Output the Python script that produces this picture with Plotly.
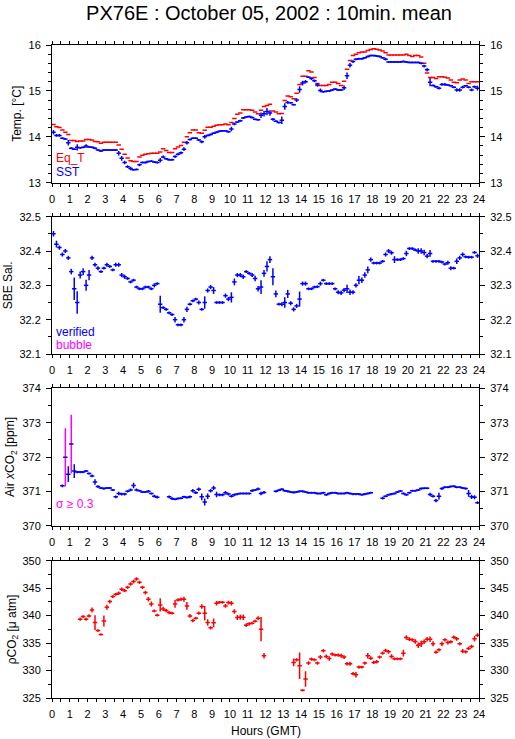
import plotly.graph_objects as go

# ---------------- data (10-minute means, 144 bins per day) ----------------
hours_ticks = list(range(0, 25))
tick_labels = [str(h) for h in hours_ticks]

eq_t = [
    14.27, 14.22, 14.20, 14.15, 14.10, 14.05,
    13.92, 13.92, 13.90, 13.91, 13.91, 13.94,
    13.94, 13.93, 13.90, 13.89, 13.86, 13.88,
    13.88, 13.88, 13.88, 13.88, 13.82, 13.73,
    13.62, 13.54, 13.48, 13.46, 13.46, 13.56,
    13.60, 13.62, 13.63, 13.64, 13.64, 13.64,
    13.67, 13.74, 13.70, 13.66, 13.66, 13.74,
    13.78, 13.81, 13.88, 14.00, 14.09, 14.15,
    14.15, 14.09, 14.08, 14.14, 14.21, 14.21,
    14.23, 14.25, 14.26, 14.26, 14.28, 14.26,
    14.31, 14.40, 14.49, 14.52, 14.59, 14.59,
    14.59, 14.58, 14.54, 14.50, 14.58, 14.66,
    14.68, 14.71, 14.56, 14.54, 14.50, 14.51,
    14.79, 14.89, 14.87, 14.83, 14.95, 15.14,
    15.32, 15.32, 15.44, 15.41, 15.29, 15.16,
    15.12, 15.12, 15.12, 15.14, 15.19, 15.19,
    15.16, 15.12, 15.21, 15.47, 15.66, 15.77,
    15.80, 15.83, 15.85, 15.85, 15.88, 15.90,
    15.92, 15.91, 15.89, 15.87, 15.83, 15.78,
    15.78, 15.78, 15.78, 15.78, 15.78, 15.80,
    15.77, 15.75, 15.77, 15.77, 15.74, 15.60,
    15.39, 15.29, 15.29, 15.27, 15.31, 15.31,
    15.30, 15.28, 15.24, 15.19, 15.18, 15.24,
    15.26, 15.24, 15.16, 15.20, 15.20, 15.20,
]

sst = [
    14.10, 14.03, 14.03, 13.97, 13.95, 13.87,
    13.75, 13.73, 13.77, 13.76, 13.77, 13.80,
    13.78, 13.77, 13.75, 13.71, 13.69, 13.71,
    13.71, 13.71, 13.71, 13.71, 13.64, 13.53,
    13.44, 13.35, 13.31, 13.28, 13.29, 13.39,
    13.44, 13.44, 13.46, 13.47, 13.45, 13.44,
    13.49, 13.56, 13.52, 13.50, 13.50, 13.57,
    13.62, 13.65, 13.73, 13.87, 13.94, 13.97,
    13.97, 13.93, 13.89, 14.00, 14.03, 14.05,
    14.08, 14.10, 14.12, 14.13, 14.13, 14.11,
    14.17, 14.28, 14.32, 14.35, 14.41, 14.43,
    14.44, 14.42, 14.38, 14.37, 14.47, 14.50,
    14.55, 14.52, 14.38, 14.34, 14.31, 14.36,
    14.66, 14.75, 14.74, 14.70, 14.80, 15.03,
    15.17, 15.20, 15.30, 15.27, 15.22, 15.13,
    15.01, 14.98, 14.99, 15.00, 15.02, 15.04,
    15.02, 15.02, 15.07, 15.33, 15.56, 15.64,
    15.69, 15.70, 15.70, 15.72, 15.75, 15.77,
    15.77, 15.76, 15.75, 15.72, 15.69, 15.63,
    15.63, 15.63, 15.63, 15.63, 15.64, 15.63,
    15.62, 15.62, 15.62, 15.62, 15.60, 15.54,
    15.46, 15.19, 15.12, 15.09, 15.06, 15.14,
    15.14, 15.13, 15.11, 15.08, 15.02, 15.02,
    15.08, 15.11, 15.08, 15.02, 15.09, 15.06,
]

sst_std = [
    0.05, 0.03, 0.03, 0.02, 0.02, 0.06,
    0.02, 0.02, 0.07, 0.02, 0.02, 0.04,
    0.02, 0.02, 0.02, 0.02, 0.02, 0.02,
    0.02, 0.02, 0.02, 0.02, 0.05, 0.05,
    0.04, 0.03, 0.04, 0.02, 0.02, 0.03,
    0.02, 0.02, 0.02, 0.02, 0.02, 0.02,
    0.05, 0.03, 0.02, 0.02, 0.02, 0.03,
    0.03, 0.03, 0.04, 0.04, 0.02, 0.02,
    0.02, 0.02, 0.03, 0.04, 0.02, 0.02,
    0.02, 0.02, 0.02, 0.02, 0.02, 0.02,
    0.05, 0.03, 0.02, 0.02, 0.02, 0.02,
    0.02, 0.02, 0.02, 0.02, 0.06, 0.06,
    0.08, 0.06, 0.03, 0.02, 0.02, 0.08,
    0.07, 0.03, 0.02, 0.02, 0.04, 0.07,
    0.05, 0.04, 0.02, 0.03, 0.03, 0.04,
    0.04, 0.02, 0.02, 0.02, 0.02, 0.02,
    0.02, 0.02, 0.05, 0.07, 0.05, 0.03,
    0.02, 0.02, 0.02, 0.02, 0.02, 0.02,
    0.02, 0.02, 0.02, 0.02, 0.03, 0.02,
    0.02, 0.02, 0.02, 0.02, 0.02, 0.02,
    0.02, 0.02, 0.02, 0.02, 0.02, 0.03,
    0.04, 0.09, 0.02, 0.02, 0.03, 0.03,
    0.03, 0.02, 0.02, 0.02, 0.04, 0.04,
    0.03, 0.02, 0.02, 0.03, 0.03, 0.05,
]

salinity = [
    32.45, 32.42, 32.41, 32.39, 32.40, 32.38,
    32.34, 32.29, 32.25, 32.33, 32.34, 32.30,
    32.33, 32.38, 32.36, 32.35, 32.34, 32.35,
    32.36, 32.355, 32.345, 32.36, 32.36, 32.33,
    32.325, 32.32, 32.31, 32.315, 32.295, 32.29,
    32.29, 32.295, 32.295, 32.29, 32.30, 32.305,
    32.245, 32.235, 32.23, 32.22, 32.215, 32.20,
    32.185, 32.185, 32.20, 32.23, 32.245, 32.255,
    32.26, 32.25, 32.23, 32.25, 32.285, 32.295,
    32.285, 32.25, 32.25, 32.25, 32.27, 32.26,
    32.265, 32.31, 32.33, 32.33, 32.325, 32.34,
    32.335, 32.33, 32.32, 32.29, 32.295, 32.335,
    32.355, 32.375, 32.325, 32.275, 32.245, 32.245,
    32.25, 32.275, 32.248, 32.23, 32.24, 32.26,
    32.305, 32.305, 32.29, 32.29, 32.295, 32.296,
    32.305, 32.315, 32.305, 32.305, 32.305, 32.29,
    32.28, 32.278, 32.286, 32.29, 32.28, 32.28,
    32.30, 32.315, 32.315, 32.33, 32.345, 32.375,
    32.365, 32.365, 32.365, 32.37, 32.39, 32.40,
    32.395, 32.375, 32.375, 32.375, 32.378, 32.393,
    32.407, 32.407, 32.403, 32.40, 32.40, 32.396,
    32.385, 32.393, 32.37, 32.37, 32.37, 32.368,
    32.362, 32.366, 32.35, 32.35, 32.37, 32.38,
    32.39, 32.383, 32.382, 32.382, 32.396, 32.386,
]

salinity_std = [
    0.008, 0.010, 0.006, 0.006, 0.006, 0.006,
    0.008, 0.033, 0.033, 0.010, 0.010, 0.016,
    0.015, 0.006, 0.006, 0.006, 0.004, 0.004,
    0.006, 0.004, 0.004, 0.006, 0.006, 0.006,
    0.006, 0.004, 0.004, 0.004, 0.004, 0.004,
    0.004, 0.004, 0.004, 0.004, 0.006, 0.004,
    0.025, 0.004, 0.004, 0.004, 0.004, 0.008,
    0.004, 0.004, 0.008, 0.008, 0.004, 0.004,
    0.004, 0.006, 0.004, 0.018, 0.006, 0.006,
    0.010, 0.004, 0.004, 0.004, 0.006, 0.006,
    0.015, 0.010, 0.006, 0.006, 0.006, 0.004,
    0.004, 0.006, 0.008, 0.008, 0.020, 0.010,
    0.015, 0.010, 0.025, 0.010, 0.004, 0.006,
    0.015, 0.012, 0.006, 0.006, 0.006, 0.022,
    0.006, 0.006, 0.004, 0.004, 0.004, 0.004,
    0.006, 0.004, 0.004, 0.004, 0.004, 0.004,
    0.006, 0.006, 0.006, 0.012, 0.008, 0.006,
    0.006, 0.012, 0.008, 0.008, 0.010, 0.006,
    0.004, 0.004, 0.004, 0.004, 0.006, 0.006,
    0.006, 0.010, 0.004, 0.004, 0.004, 0.008,
    0.004, 0.004, 0.004, 0.008, 0.008, 0.008,
    0.006, 0.010, 0.004, 0.004, 0.004, 0.004,
    0.004, 0.006, 0.006, 0.004, 0.008, 0.006,
    0.006, 0.004, 0.004, 0.004, 0.004, 0.006,
]

xco2_air = [
    None, None, None, 371.16, 371.99, 371.50,
    372.38, 371.59, 371.56, 371.56, 371.56, 371.59,
    371.52, 371.45, 371.27, 371.14, 371.10, 371.08,
    371.10, 371.10, 371.04, 370.84, 370.94, 370.92,
    370.92, 371.00, 371.04, 371.17, 371.04, 371.02,
    370.98, 370.98, 371.00, 370.94, 370.86, 370.83,
    None, None, None, 370.84, 370.79, 370.77,
    370.79, 370.80, 370.84, 370.82, 370.84, 371.02,
    370.96, 371.06, 370.84, 370.69, 370.86, 371.02,
    371.10, 370.91, 370.90, 370.90, 370.96, 370.92,
    370.86, 370.90, 370.92, 370.94, 370.94, 370.94,
    370.94, 371.02, 371.04, 371.07, 370.94, 370.97,
    None, None, None, 371.00, 371.03, 371.06,
    371.02, 371.00, 370.98, 370.97, 370.98, 371.00,
    371.00, 370.98, 370.96, 370.96, 370.96, 370.94,
    370.94, 370.96, 370.90, 370.94, 370.96, 370.96,
    370.94, 370.94, 370.94, 370.96, 370.94, 370.92,
    370.92, 370.92, 370.90, 370.92, 370.94, 370.96,
    None, None, None, 370.80, 370.86, 370.90,
    370.92, 370.94, 370.98, 371.01, 370.94, 370.90,
    370.96, 371.02, 371.02, 371.04, 371.08, 371.09,
    371.09, 370.91, 370.86, 370.73, 370.86, 371.08,
    371.12, 371.12, 371.14, 371.15, 371.12, 371.12,
    371.10, 371.08, 370.94, 370.84, 370.83, 370.67,
]

xco2_std = [
    0.00, 0.00, 0.00, 0.04, 0.85, 0.23,
    0.85, 0.20, 0.03, 0.03, 0.03, 0.03,
    0.03, 0.04, 0.08, 0.04, 0.03, 0.03,
    0.03, 0.03, 0.03, 0.04, 0.05, 0.04,
    0.04, 0.03, 0.04, 0.08, 0.04, 0.03,
    0.03, 0.03, 0.04, 0.03, 0.04, 0.04,
    0.00, 0.00, 0.00, 0.04, 0.04, 0.03,
    0.03, 0.03, 0.03, 0.03, 0.04, 0.05,
    0.04, 0.05, 0.10, 0.10, 0.08, 0.05,
    0.06, 0.08, 0.04, 0.04, 0.05, 0.04,
    0.04, 0.04, 0.03, 0.03, 0.03, 0.03,
    0.03, 0.04, 0.03, 0.04, 0.05, 0.04,
    0.00, 0.00, 0.00, 0.03, 0.03, 0.03,
    0.03, 0.03, 0.03, 0.03, 0.03, 0.03,
    0.03, 0.03, 0.03, 0.03, 0.03, 0.03,
    0.03, 0.03, 0.03, 0.03, 0.03, 0.03,
    0.03, 0.03, 0.03, 0.03, 0.03, 0.03,
    0.03, 0.03, 0.03, 0.03, 0.03, 0.03,
    0.00, 0.00, 0.00, 0.04, 0.03, 0.03,
    0.03, 0.03, 0.03, 0.03, 0.03, 0.03,
    0.03, 0.03, 0.03, 0.03, 0.03, 0.03,
    0.03, 0.05, 0.04, 0.05, 0.10, 0.04,
    0.03, 0.03, 0.03, 0.03, 0.03, 0.03,
    0.03, 0.03, 0.10, 0.06, 0.06, 0.04,
]

pco2 = [
    None, None, None, None, None, None,
    None, None, None, 339.35, 339.83, 339.35,
    339.95, 341.04, 338.74, 337.29, 336.56, 339.04,
    341.53, 342.55, 343.46, 343.89, 344.07, 344.80,
    344.55, 345.16, 345.76, 346.19, 346.67, 346.07,
    345.16, 344.19, 342.98, 342.13, 340.86, 340.07,
    341.95, 341.22, 340.92, 340.56, 340.44, 342.13,
    342.86, 342.98, 342.98, 341.77, 339.95, 339.10,
    339.53, 340.44, 341.65, 340.44, 338.74, 337.77,
    338.68, 342.25, 342.43, 342.43, 341.77, 342.37,
    342.25, 340.74, 339.65, 339.71, 339.71, 338.26,
    338.50, 338.62, 338.98, 339.53, 337.53, 332.69,
    None, None, None, None, None, None,
    None, None, None, 331.48, 331.96, 330.87,
    326.39, 328.45, 331.36, 332.08, 331.96, 331.36,
    332.45, 333.60, 332.57, 332.20, 332.99, 332.81,
    332.81, 332.69, 332.45, 331.24, 331.24, 329.42,
    329.24, 330.63, 330.63, 331.36, 332.69, 332.26,
    331.48, 331.60, 332.45, 333.17, 333.66, 333.41,
    332.57, 332.14, 332.14, 332.14, 333.17, 336.02,
    335.71, 335.59, 335.29, 334.62, 334.87, 335.23,
    335.71, 335.71, 334.87, 333.35, 333.78, 334.87,
    335.59, 335.11, 335.23, 336.08, 335.77, 334.87,
    333.53, 333.41, 334.02, 334.38, 335.77, 336.44,
]

pco2_std = [
    0.0, 0.0, 0.0, 0.0, 0.0, 0.0,
    0.0, 0.0, 0.0, 0.30, 0.25, 0.30,
    0.30, 0.45, 1.35, 0.25, 0.20, 1.00,
    0.45, 0.35, 0.25, 0.25, 0.30, 0.30,
    0.30, 0.30, 0.30, 0.35, 0.30, 0.30,
    0.30, 0.35, 0.40, 0.45, 0.25, 0.25,
    1.20, 0.40, 0.30, 0.30, 0.25, 0.70,
    0.30, 0.30, 0.45, 0.70, 0.35, 0.30,
    0.25, 0.30, 0.40, 1.30, 0.60, 0.30,
    0.80, 0.40, 0.25, 0.25, 0.35, 0.35,
    0.40, 0.40, 0.45, 0.45, 0.50, 0.35,
    0.30, 0.25, 0.25, 0.35, 2.20, 0.50,
    0.0, 0.0, 0.0, 0.0, 0.0, 0.0,
    0.0, 0.0, 0.0, 0.70, 0.30, 2.40,
    0.20, 1.40, 0.35, 0.30, 0.25, 0.30,
    0.40, 0.30, 0.35, 0.40, 0.30, 0.25,
    0.30, 0.35, 0.35, 0.30, 0.35, 0.30,
    0.50, 0.30, 0.25, 0.30, 0.50, 0.35,
    0.30, 0.30, 0.30, 0.30, 0.30, 0.35,
    0.40, 0.25, 0.25, 0.25, 0.60, 0.40,
    0.35, 0.30, 0.40, 0.50, 0.60, 0.40,
    0.40, 0.50, 0.45, 0.30, 0.30, 0.40,
    0.30, 0.35, 0.30, 0.30, 0.35, 0.30,
    0.40, 0.30, 0.30, 0.30, 0.50, 0.35,
]

SIGMA_FLAG = 0.3

# ---------------- helpers ----------------
N_BINS = 144
BIN_H = 1.0 / 6.0                     # 10 minutes in hours
times = [(i + 0.5) * BIN_H for i in range(N_BINS)]

RED = "#ff0000"
BLUE = "#0000ff"
MAGENTA = "#ff00ff"
FONT = "Liberation Sans, Arial, Helvetica, sans-serif"
THICK = 1.5
HALF_W = 0.125                        # half width of the horizontal stroke, hours

fig = go.Figure()


def add_series(y, std, color, k, show_y=True, std_color=None):
    xa = "x" if k == 1 else f"x{k}"
    ya = "y" if k == 1 else f"y{k}"
    ey = dict(visible=False)
    if show_y:
        ey = dict(type="data", array=std, symmetric=True, color=std_color or color,
                  thickness=THICK, width=0, visible=True)
    fig.add_trace(go.Scatter(
        x=times, y=y, mode="markers", xaxis=xa, yaxis=ya,
        marker=dict(size=1, color=color, opacity=0),
        error_x=dict(type="constant", value=HALF_W, symmetric=True,
                     color=color, thickness=THICK, width=0),
        error_y=ey, showlegend=False, hoverinfo="skip"))


# panel 1
add_series(eq_t, None, RED, 1, show_y=False)
add_series(sst, sst_std, BLUE, 1)
# panel 2
add_series(salinity, salinity_std, BLUE, 2)
# panel 3: flagged sigma shown in magenta
flag_y = [v if (v is not None and s >= SIGMA_FLAG) else None for v, s in zip(xco2_air, xco2_std)]
flag_s = [s if s >= SIGMA_FLAG else 0 for s in xco2_std]
ok_s = [s if s < SIGMA_FLAG else 0 for s in xco2_std]
fig.add_trace(go.Scatter(
    x=times, y=flag_y, mode="markers", xaxis="x3", yaxis="y3",
    marker=dict(size=1, color=MAGENTA, opacity=0),
    error_y=dict(type="data", array=flag_s, color=MAGENTA, thickness=THICK, width=0),
    showlegend=False, hoverinfo="skip"))
add_series(xco2_air, ok_s, BLUE, 3)
# panel 4
add_series(pco2, pco2_std, RED, 4)

# ---------------- layout ----------------
W, H = 515, 739
ML, MR, MT, MB = 52, 36, 45, 41
PW = W - ML - MR
PH = H - MT - MB

panels_px = [(45, 182.7), (216.7, 354.0), (388.3, 525.7), (560.7, 698.0)]
y_ranges = [(13, 16), (32.1, 32.5), (370, 374), (325, 350)]
y_majors = [[13, 14, 15, 16],
            [32.1, 32.2, 32.3, 32.4, 32.5],
            [370, 371, 372, 373, 374],
            [325, 330, 335, 340, 345, 350]]
y_major_text = [["13", "14", "15", "16"],
                ["32.1", "32.2", "32.3", "32.4", "32.5"],
                ["370", "371", "372", "373", "374"],
                ["325", "330", "335", "340", "345", "350"]]
y_minor = [0.2, 0.05, 0.5, 2.5]
y_titles = ["Temp. [°C]", "SBE Sal.", "Air <i>x</i>CO<sub>2</sub> [ppm]",
            "ρCO<sub>2</sub> [μ atm]"]
y_title_x_px = [17, 8, 11, 13]


def frac_y(px):
    return (H - MB - px) / PH


tickfont = dict(family=FONT, size=11, color="black")
layout = dict(
    width=W, height=H, margin=dict(l=ML, r=MR, t=MT, b=MB, autoexpand=False),
    paper_bgcolor="white", plot_bgcolor="white",
    title=dict(text="PX76E : October 05, 2002 : 10min. mean",
               font=dict(family=FONT, size=20, color="black"),
               x=(269 - ML) / PW, xref="paper", xanchor="center",
               y=1 - 12.5 / H, yref="container", yanchor="middle"),
    showlegend=False,
)

annotations = []
for k in range(1, 5):
    top, bot = panels_px[k - 1]
    dom = [frac_y(bot), frac_y(top)]
    sx = "" if k == 1 else str(k)
    layout[f"xaxis{sx}"] = dict(
        domain=[0, 1], anchor=f"y{k}" if k > 1 else "y", range=[0, 24],
        tickvals=hours_ticks, ticktext=tick_labels, ticks="outside", ticklen=3,
        tickcolor="black", showline=True, linecolor="black", linewidth=1,
        mirror="ticks", showgrid=False, zeroline=False, tickfont=tickfont,
        ticklabelstandoff=3, automargin=False,
        minor=dict(dtick=0.5, tick0=0, ticks="outside", ticklen=3, tickcolor="black",
                   showgrid=False),
    )
    lo, hi = y_ranges[k - 1]
    common_y = dict(
        range=[lo, hi], tickvals=y_majors[k - 1], ticktext=y_major_text[k - 1],
        ticks="outside", ticklen=5, tickcolor="black", showgrid=False, zeroline=False,
        tickfont=tickfont, ticklabelstandoff=3, automargin=False,
        minor=dict(dtick=y_minor[k - 1], tick0=lo, ticks="outside", ticklen=3,
                   tickcolor="black", showgrid=False),
    )
    layout[f"yaxis{sx}"] = dict(domain=dom, anchor=f"x{sx}" if k > 1 else "x",
                                showline=True, linecolor="black", linewidth=1,
                                mirror=True, **common_y)
    layout[f"yaxis{k + 4}"] = dict(overlaying=f"y{sx}" if k > 1 else "y",
                                   anchor=f"x{sx}" if k > 1 else "x",
                                   side="right", showline=False, **common_y)
    fig.add_trace(go.Scatter(x=[None], y=[None], xaxis=f"x{sx}" if k > 1 else "x",
                             yaxis=f"y{k + 4}", showlegend=False, hoverinfo="skip"))
    annotations.append(dict(
        text=y_titles[k - 1], textangle=-90, xref="paper",
        x=(y_title_x_px[k - 1] - ML) / PW, xanchor="center",
        yref=f"y{sx} domain" if k > 1 else "y domain", y=0.5, yanchor="middle",
        showarrow=False, font=dict(family=FONT, size=12, color="black")))


def key(text, color, k, yfrac):
    sx = "" if k == 1 else str(k)
    annotations.append(dict(
        text=text, xref=f"x{sx} domain" if k > 1 else "x domain", x=0.004,
        xanchor="left", yref=f"y{sx} domain" if k > 1 else "y domain", y=yfrac,
        yanchor="middle", showarrow=False,
        font=dict(family=FONT, size=12, color=color)))


key("Eq_T", RED, 1, 0.179)
key("SST", BLUE, 1, 0.078)
key("verified", BLUE, 2, 0.16)
key("bubble", MAGENTA, 2, 0.066)
key("σ ≥ 0.3", MAGENTA, 3, 0.158)

annotations.append(dict(
    text="Hours (GMT)", xref="paper", x=0.5, xanchor="center",
    yref="paper", y=frac_y(730.7), yanchor="middle", showarrow=False,
    font=dict(family=FONT, size=12, color="black")))

layout["annotations"] = annotations
fig.update_layout(**layout)
fig.write_html("out.html",
               config={"displayModeBar": False, "staticPlot": True},
               post_script="document.body.style.margin='0';document.body.style.overflow='hidden';")
